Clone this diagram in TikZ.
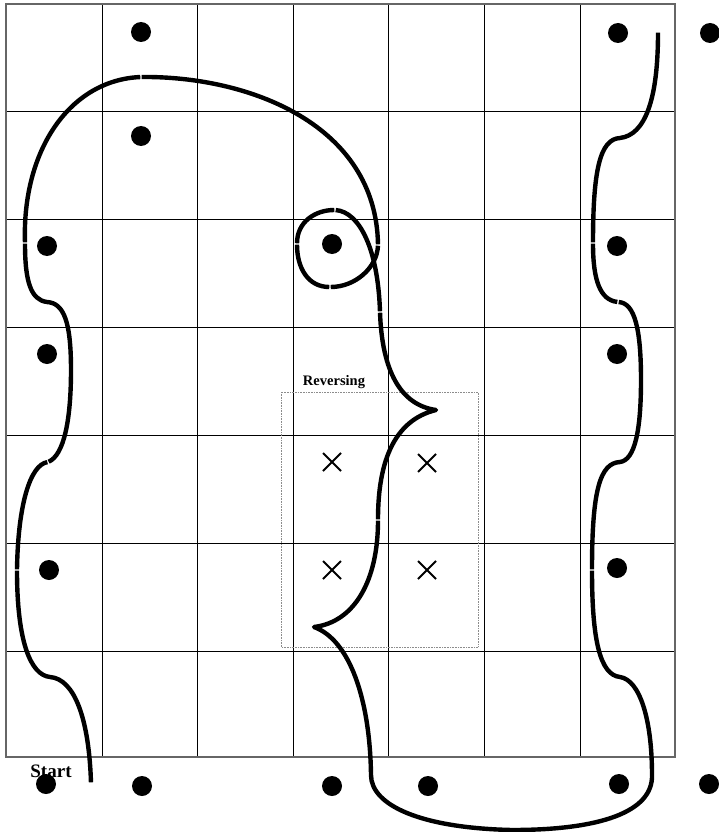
\documentclass[tikz,border=0pt]{standalone}
\usepackage{fontspec}
\setmainfont{Liberation Serif}
\usetikzlibrary{shapes.misc}
\begin{document}
\begin{tikzpicture}[x=1pt,y=-1pt,
  gridline/.style={black, line width=0.8pt},
  frameline/.style={black!60, line width=1.2pt},
  trail/.style={black, line width=4.4pt, line cap=butt, line join=round},
  gapped/.style={trail, shorten <=0.7pt, shorten >=0.7pt},
  dot/.style={circle, fill=black, inner sep=0pt, minimum size=20pt},
  mark x/.style={cross out, draw=black, line width=2pt, inner sep=0pt, minimum size=16pt},
  zonebox/.style={draw=black!45, densely dotted, line width=0.6pt},
  label/.style={font=\bfseries\fontsize{#1}{#1}\selectfont, inner sep=0pt}]
\useasboundingbox (0,0) rectangle (718,832);
% grid
\foreach \x in {102,197,293,388,484,580} \draw[gridline] (\x,4) -- (\x,757);
\foreach \y in {111,219,327,435,543,651} \draw[gridline] (6,\y) -- (675,\y);
\draw[frameline] (6,4) rectangle (675,757);
% reversing zone
\draw[zonebox] (281,392) rectangle (478,647);
\node[label=14.5] (rev) at (334,382) {Reversing};
% dots
\node[dot] (d1) at (141,32) {};
\node[dot] (d2) at (141,136) {};
\node[dot] (d3) at (47,246) {};
\node[dot] (d4) at (47,354) {};
\node[dot] (d5) at (49,570) {};
\node[dot] (d6) at (332,244) {};
\node[dot] (d7) at (618,33) {};
\node[dot] (d8) at (710,33) {};
\node[dot] (d9) at (617,246) {};
\node[dot] (d10) at (617,354) {};
\node[dot] (d11) at (617,568) {};
\node[dot] (d12) at (46,784) {};
\node[dot] (d13) at (142,786) {};
\node[dot] (d14) at (332,786) {};
\node[dot] (d15) at (428,786) {};
\node[dot] (d16) at (619,784) {};
\node[dot] (d17) at (709,784) {};
% crosses
\node[mark x] (x1) at (332,462) {};
\node[mark x] (x2) at (427,463) {};
\node[mark x] (x3) at (332,570) {};
\node[mark x] (x4) at (427,570) {};
% start label
\node[label=19] (start) at (51,771) {Start};
% trail, left and top
\draw[gapped] (91,783) .. controls (89,720) and (75,679) .. (50,677) .. controls (30,675) and (17,640) .. (17,570);
\draw[gapped] (17,570) .. controls (18,505) and (30,465) .. (48,462);
\draw[gapped] (48,462) .. controls (64,455) and (71,420) .. (71,370) .. controls (71,322) and (64,303) .. (47,302) .. controls (31,300) and (25,282) .. (25,243);
\draw[gapped] (25,243) .. controls (22,150) and (70,80) .. (141,77);
\draw[gapped] (141,77) .. controls (250,76) and (376,125) .. (378,245);
% loop
\draw[gapped] (378,245) .. controls (377,268) and (355,287) .. (330,287);
\draw[gapped] (330,287) .. controls (308,287) and (297,268) .. (297,244);
\draw[gapped] (297,244) .. controls (297,222) and (315,210) .. (335,210);
\draw[gapped] (335,210) .. controls (360,212) and (378,250) .. (380,312);
% reversing
\draw[gapped] (380,312) .. controls (382,370) and (400,405) .. (436,410) .. controls (395,420) and (378,460) .. (378,520);
\draw[gapped] (378,520) .. controls (378,580) and (355,622) .. (314,627) .. controls (350,640) and (370,700) .. (371,775) .. controls (371,805) and (420,828) .. (512,830) .. controls (600,830) and (653,812) .. (652,775) .. controls (652,720) and (640,680) .. (620,677) .. controls (600,675) and (592,640) .. (592,570);
% right side
\draw[gapped] (592,570) .. controls (592,490) and (600,463) .. (620,462) .. controls (635,460) and (641,430) .. (641,380) .. controls (641,330) and (635,303) .. (618,302);
\draw[gapped] (618,302) .. controls (600,300) and (593,280) .. (593,243);
\draw[gapped] (593,243) .. controls (593,170) and (600,139) .. (620,138) .. controls (645,135) and (658,100) .. (658,32);
\end{tikzpicture}
\end{document}
